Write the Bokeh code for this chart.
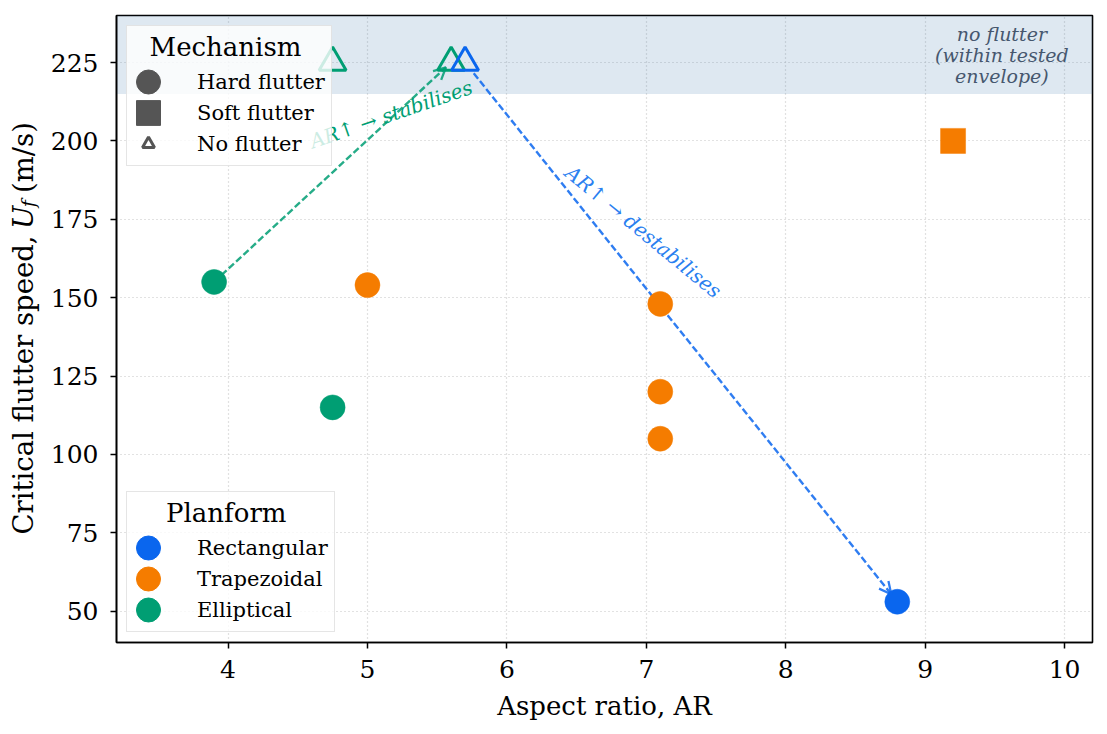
import math
from bokeh.plotting import figure
from bokeh.layouts import row
from bokeh.models import (ColumnDataSource, Legend, LegendItem, BoxAnnotation,
                          Arrow, OpenHead, Range1d, FixedTicker)
from bokeh.core.properties import value
from bokeh.embed import file_html
from bokeh.resources import INLINE

FONT = "DejaVu Serif"
NAN = float("nan")

# ---------------- data ----------------
aspect_ratio = [3.9, 4.75, 4.75, 5.6, 5.0, 7.1, 7.1, 7.1, 9.2, 8.8, 5.7]
flutter_speed = [155, 115, 225, 225, 154, 148, 120, 105, 200, 53, 225]
planform = ["Elliptical", "Elliptical", "Elliptical", "Elliptical",
            "Trapezoidal", "Trapezoidal", "Trapezoidal", "Trapezoidal", "Trapezoidal",
            "Rectangular", "Rectangular"]
mechanism = ["Hard flutter", "Hard flutter", "No flutter", "No flutter",
             "Hard flutter", "Hard flutter", "Hard flutter", "Hard flutter", "Soft flutter",
             "Hard flutter", "No flutter"]

planforms = ["Rectangular", "Trapezoidal", "Elliptical"]
planform_colors = ["#0a66ee", "#f57c00", "#009e73"]
mechanisms = ["Hard flutter", "Soft flutter", "No flutter"]
mechanism_markers = ["circle", "square", "triangle"]

x_ticks = [4, 5, 6, 7, 8, 9, 10]
y_ticks = [50, 75, 100, 125, 150, 175, 200, 225]

# trends: (start point index, end point index)
trend_pairs = [(0, 3), (10, 9)]
trend_colors = ["#009e73", "#0a66ee"]
trend_texts = ["AR\u2191 \u2192 stabilises", "AR\u2191 \u2192 destabilises"]
trend_text_x = [5.17, 6.98]
trend_text_y = [208.5, 171.0]
trend_text_angle_deg = [19.0, -39.5]

band_bottom, band_top = 215, 240
band_text = "no flutter\n(within tested\nenvelope)"
band_text_x, band_text_y = 9.55, 227.5

x_label = "Aspect ratio, AR"
y_label_parts = ["Critical flutter speed,", "U", "f", "(m/s)"]

colour_of = dict(zip(planforms, planform_colors))

H = 724
LEFT_W = 47

# ---------------- main figure ----------------
p = figure(width=1048, height=H, output_backend="svg", toolbar_location=None,
           x_range=Range1d(3.2, 10.2), y_range=Range1d(40, 240),
           min_border_left=66, min_border_right=3, min_border_top=15,
           min_border_bottom=82)
p.background_fill_color = "white"
p.border_fill_color = "white"
p.outline_line_color = "black"
p.outline_line_width = 1.6
p.outline_line_alpha = 1.0

band = BoxAnnotation(bottom=band_bottom, top=band_top, fill_color="#4682b4",
                     fill_alpha=0.18, line_alpha=0, level="underlay")
p.add_layout(band)

p.xaxis.ticker = FixedTicker(ticks=x_ticks)
p.yaxis.ticker = FixedTicker(ticks=y_ticks)
p.xaxis.axis_label = x_label
for ax in (p.xaxis[0], p.yaxis[0]):
    ax.major_label_text_font = FONT
    ax.major_label_text_font_size = "25px"
    ax.major_label_text_color = "black"
    ax.axis_label_text_font = FONT
    ax.axis_label_text_font_size = "26px"
    ax.axis_label_text_font_style = "normal"
    ax.axis_label_text_color = "black"
    ax.axis_line_width = 1.6
    ax.axis_line_color = "black"
    ax.major_tick_line_width = 1.5
    ax.major_tick_line_color = "black"
    ax.major_tick_in = 0
    ax.major_tick_out = 6
    ax.minor_tick_line_color = None
p.xaxis.major_label_standoff = 11
p.xaxis.axis_label_standoff = 10
p.yaxis.major_label_standoff = 12

for g in (p.xgrid[0], p.ygrid[0]):
    g.grid_line_color = "#c4c4c4"
    g.grid_line_dash = "1 3"
    g.grid_line_width = 1.2

# ---------------- trend arrows ----------------
seg = dict(x0=[], y0=[], x1=[], y1=[], c=[])
start_fracs = [0.0, 0.02]
end_fracs = [0.978, 0.986]
for k, (i0, i1) in enumerate(trend_pairs):
    xa, ya = aspect_ratio[i0], flutter_speed[i0]
    xb, yb = aspect_ratio[i1], flutter_speed[i1]
    seg["x0"].append(xa + (xb - xa) * start_fracs[k])
    seg["y0"].append(ya + (yb - ya) * start_fracs[k])
    ex = xa + (xb - xa) * end_fracs[k]
    ey = ya + (yb - ya) * end_fracs[k]
    seg["x1"].append(ex)
    seg["y1"].append(ey)
    seg["c"].append(trend_colors[k])
    bx = xa + (xb - xa) * (end_fracs[k] - 0.02)
    by = ya + (yb - ya) * (end_fracs[k] - 0.02)
    p.add_layout(Arrow(end=OpenHead(size=12, line_color=trend_colors[k], line_width=2.3,
                                    line_alpha=0.85),
                       x_start=bx, y_start=by, x_end=ex, y_end=ey,
                       line_alpha=0, line_width=0))
p.segment(x0="x0", y0="y0", x1="x1", y1="y1", line_color="c", line_width=2.4,
          line_alpha=0.85, line_dash="7 3", source=ColumnDataSource(seg))

# ---------------- data points ----------------
for mech, marker in zip(mechanisms, mechanism_markers):
    idx = [i for i, m in enumerate(mechanism) if m == mech]
    src = ColumnDataSource(dict(x=[aspect_ratio[i] for i in idx],
                                y=[flutter_speed[i] for i in idx],
                                c=[colour_of[planform[i]] for i in idx]))
    if mech == "No flutter":
        p.scatter("x", "y", source=src, marker="triangle", size=27,
                  fill_color=None, line_color="c", line_width=3)
    else:
        p.scatter("x", "y", source=src, marker=marker, size=25,
                  fill_color="c", line_color="c", line_width=0.5)

# ---------------- text annotations ----------------
p.text(x=trend_text_x, y=trend_text_y, text=trend_texts,
       angle=[math.radians(a) for a in trend_text_angle_deg],
       text_color=["#009e73", "#2a7ff0"], text_font=value(FONT),
       text_font_style="italic", text_font_size="20px",
       text_align="center", text_baseline="middle")

p.text(x=[band_text_x], y=[band_text_y], text=[band_text], text_color="#46576e",
       text_font=value(FONT), text_font_style="italic", text_font_size="19px",
       text_align="center", text_baseline="middle", text_line_height=0.95)

# ---------------- legends ----------------
GREY = "#555555"
mech_items = []
r_hard = p.ellipse(x=[NAN], y=[NAN], width=1, height=1, width_units="screen",
                   height_units="screen", fill_color=GREY, line_color=GREY)
r_soft = p.rect(x=[NAN], y=[NAN], width=1, height=1, width_units="screen",
                height_units="screen", fill_color=GREY, line_color=GREY)
r_none = p.scatter(x=[NAN], y=[NAN], marker="triangle", size=10, fill_color=None,
                   line_color=GREY, line_width=3)
for mech, r in zip(mechanisms, [r_hard, r_soft, r_none]):
    mech_items.append(LegendItem(label=mech, renderers=[r]))

plan_items = []
for name, col in zip(planforms, planform_colors):
    r = p.ellipse(x=[NAN], y=[NAN], width=1, height=1, width_units="screen",
                  height_units="screen", fill_color=col, line_color=col)
    plan_items.append(LegendItem(label=name, renderers=[r]))

def style_legend(leg):
    leg.background_fill_color = "white"
    leg.background_fill_alpha = 0.8
    leg.border_line_color = "#cccccc"
    leg.border_line_width = 1.5
    leg.label_text_font = FONT
    leg.label_text_font_size = "21px"
    leg.title_text_font = FONT
    leg.title_text_font_size = "26px"
    leg.title_text_font_style = "normal"
    leg.title_text_color = "black"
    leg.label_text_color = "black"
    leg.glyph_width = 30
    leg.glyph_height = 31
    leg.label_standoff = 34
    leg.padding = 6
    leg.spacing = 0
    leg.margin = 10
    leg.title_standoff = 4

leg1 = Legend(items=mech_items, title="\u00a0\u00a0Mechanism", location="top_left")
leg2 = Legend(items=plan_items, title="\u00a0\u00a0\u00a0\u00a0Planform",
              location="bottom_left")
style_legend(leg1)
style_legend(leg2)
p.add_layout(leg1)
p.add_layout(leg2)

# ---------------- y axis label (with subscript) in a narrow side figure ----------------
lab = figure(width=LEFT_W, height=H, output_backend="svg", toolbar_location=None,
             x_range=Range1d(0, LEFT_W), y_range=Range1d(0, H),
             x_axis_type=None, y_axis_type=None, min_border=0,
             outline_line_color=None)
lab.grid.visible = False
lab.background_fill_color = "white"
lab.border_fill_color = "white"

base_x = 22.5
Y0 = 470
LAB_SIZE = "27.5px"
lab.text(x=[base_x], y=[Y0], text=[y_label_parts[0]], angle=math.pi / 2,
         text_font=value(FONT), text_font_size=LAB_SIZE, text_color="black",
         text_align="right", text_baseline="alphabetic")
lab.text(x=[base_x], y=[Y0 + 7.5], text=[y_label_parts[1]], angle=math.pi / 2,
         text_font=value(FONT), text_font_size=LAB_SIZE, text_font_style="italic",
         text_color="black", text_align="left", text_baseline="alphabetic")
lab.text(x=[base_x + 5], y=[Y0 + 32.5], text=[y_label_parts[2]], angle=math.pi / 2,
         text_font=value(FONT), text_font_size="19px", text_font_style="italic",
         text_color="black", text_align="left", text_baseline="alphabetic")
lab.text(x=[base_x], y=[Y0 + 49], text=[y_label_parts[3]], angle=math.pi / 2,
         text_font=value(FONT), text_font_size=LAB_SIZE, text_color="black",
         text_align="left", text_baseline="alphabetic")

layout = row(lab, p, spacing=0)
open("out.html", "w").write(file_html(layout, INLINE))
